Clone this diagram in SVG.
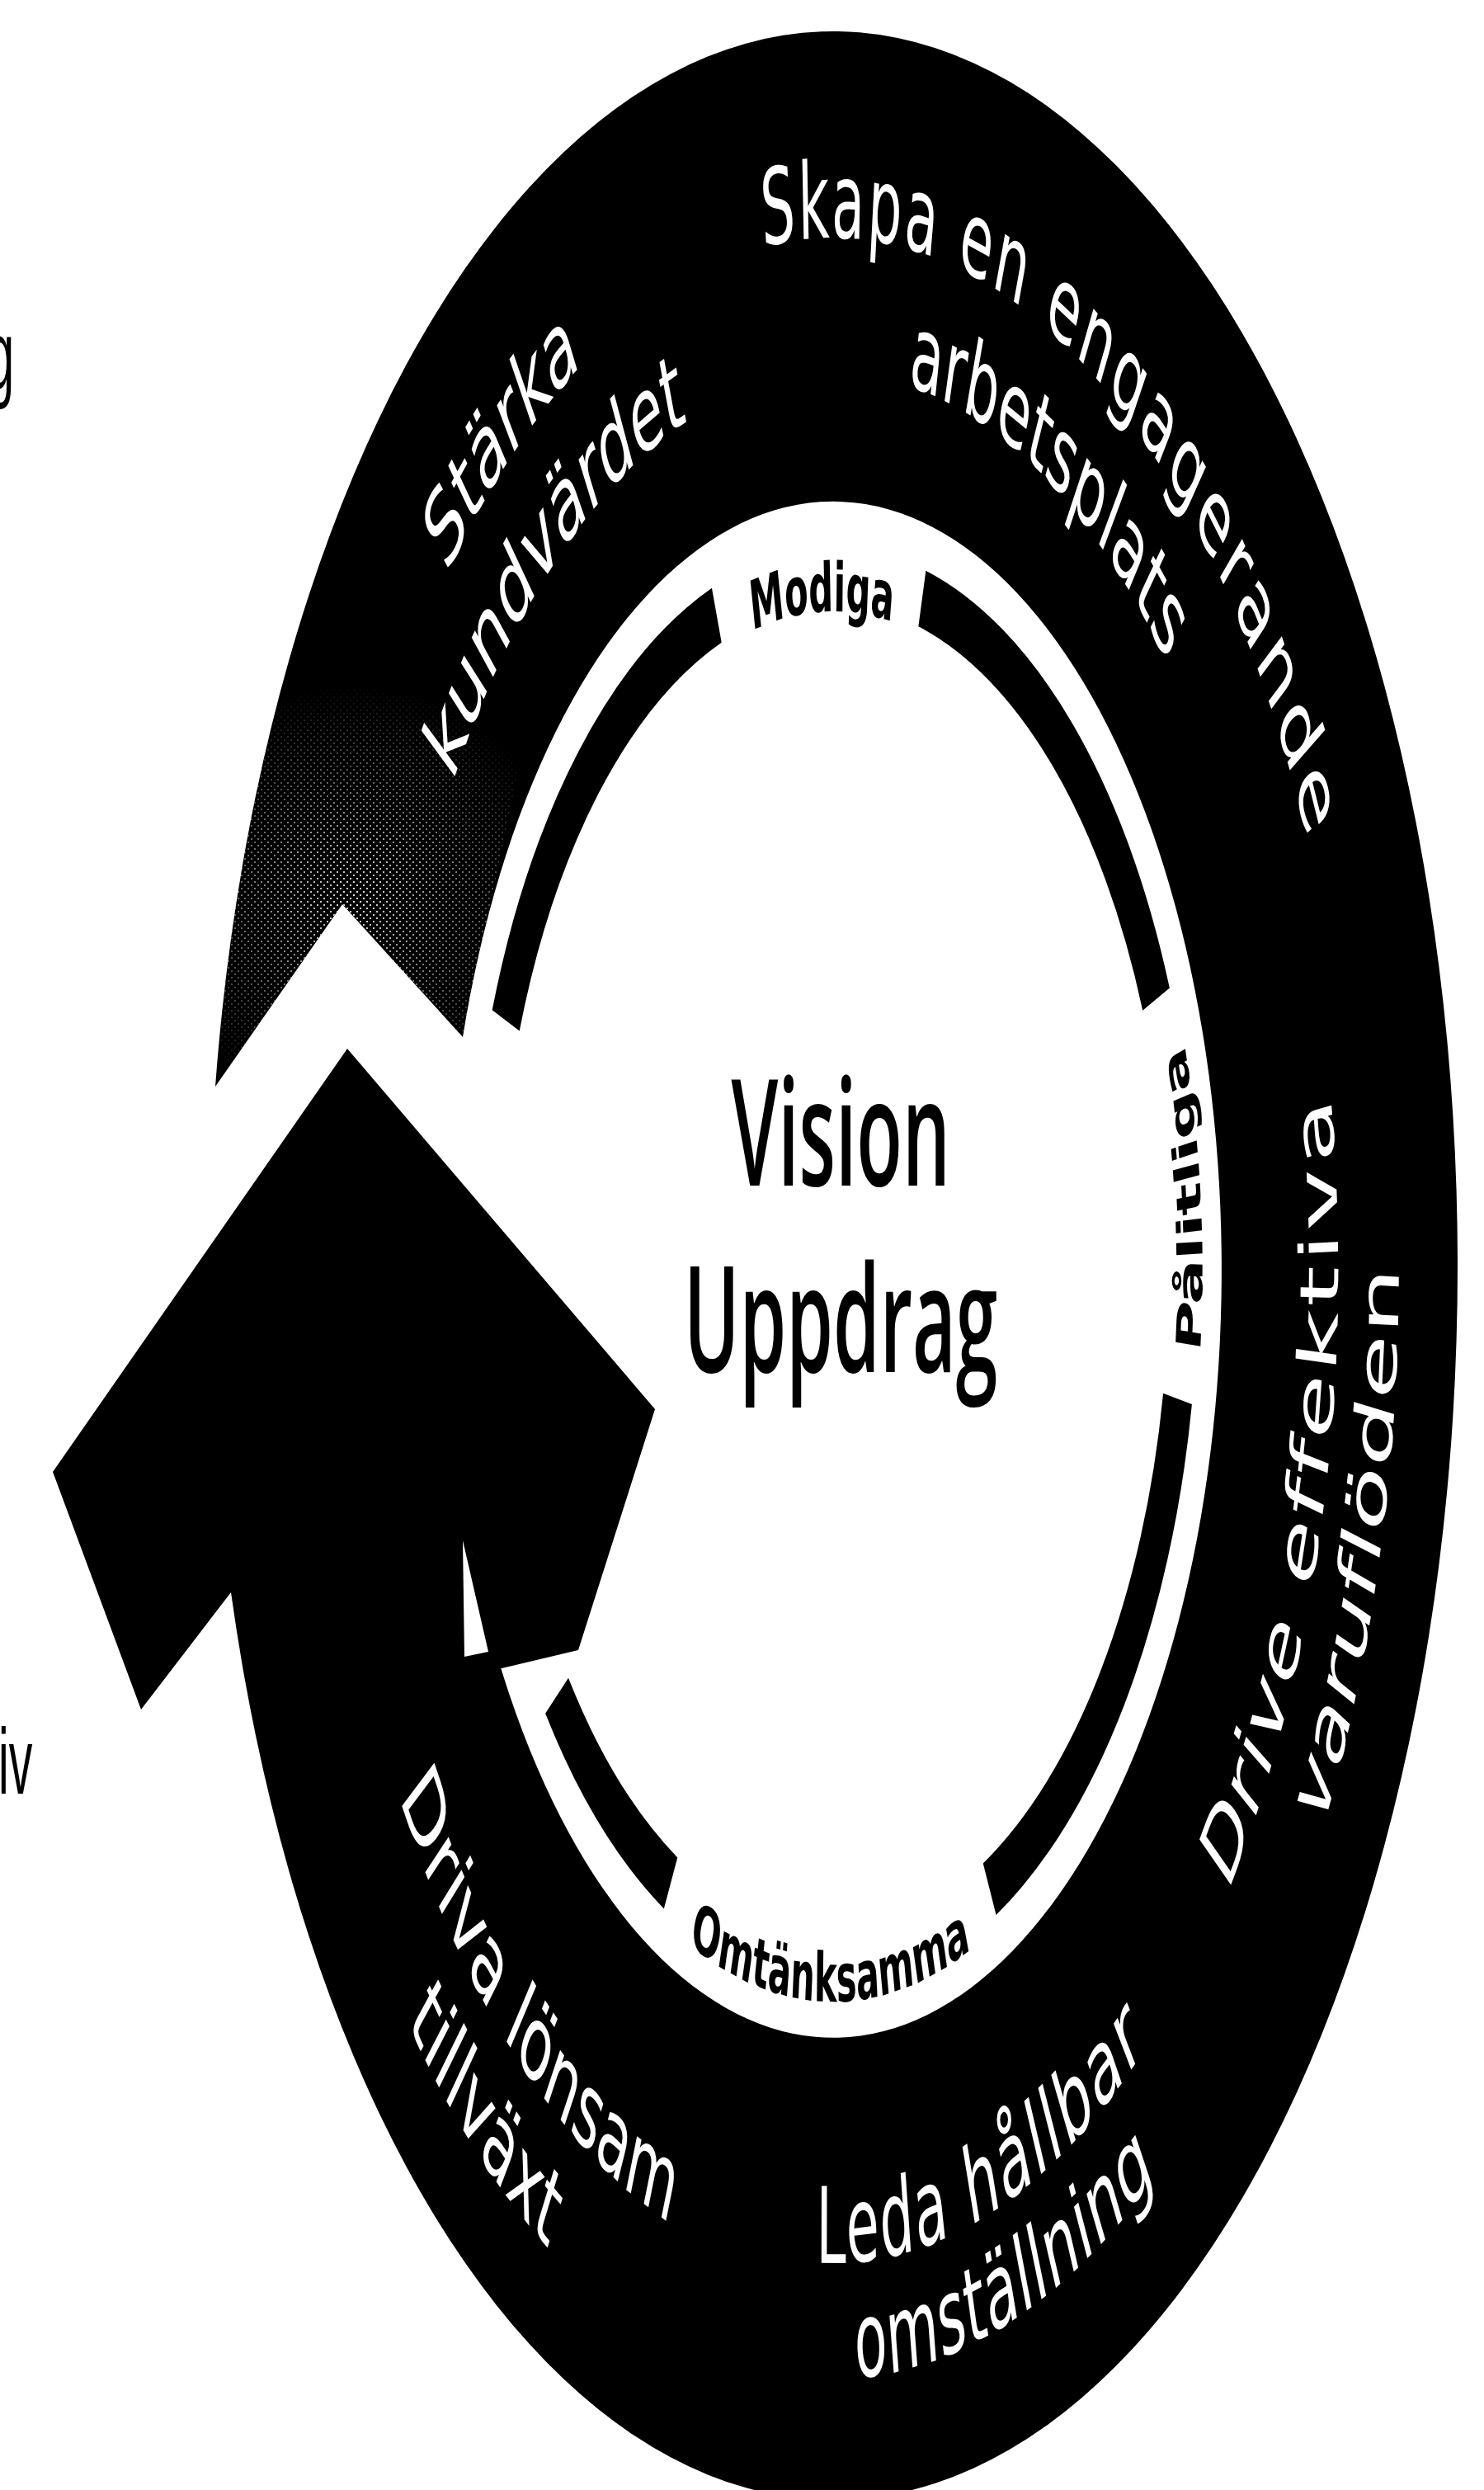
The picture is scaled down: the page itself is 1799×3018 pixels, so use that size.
<svg xmlns="http://www.w3.org/2000/svg" width="1799" height="3018" viewBox="0 0 1799 3018">
<style>
.ring{font-family:"DejaVu Sans",Verdana,sans-serif;font-size:128px;fill:#fff}
.lbl{font-family:"DejaVu Sans",sans-serif;font-weight:bold;font-size:82px;fill:#000}
.ctr{font-family:"Open Sans","Noto Sans",sans-serif;font-weight:600;font-size:180px;fill:#000;text-anchor:middle}
.band{fill:none;stroke:#000;stroke-width:70}
.frag{font-family:"Liberation Sans",Arial,sans-serif;fill:#000}
</style>
<defs>
<pattern id="speck" width="8" height="8" patternUnits="userSpaceOnUse"><rect width="2" height="2" fill="#fff"/><rect x="4" y="4" width="2" height="2" fill="#fff"/></pattern>
<radialGradient id="fade" cx="430" cy="1090" r="260" gradientUnits="userSpaceOnUse"><stop offset="0" stop-color="#fff" stop-opacity="0.9"/><stop offset="1" stop-color="#fff" stop-opacity="0"/></radialGradient>
<mask id="spkMask"><rect x="0" y="700" width="800" height="700" fill="url(#fade)"/></mask>
<clipPath id="tailClip"><polygon points="200,780 660,780 561,1257 415,1096 261,1317 200,1317"/></clipPath>
<path id="p-starka" d="M -1044.8,686.3 A 1250 1250 0 0 1 909.8,-857.3"/>
<path id="p-kund" d="M -910.0,590.9 A 1085 1085 0 0 1 793.5,-740.0"/>
<path id="p-skapa" d="M -1036.3,-699.0 A 1250 1250 0 0 1 1141.9,508.4"/>
<path id="p-arbets" d="M -904.8,-598.8 A 1085 1085 0 0 1 995.1,432.6"/>
<path id="p-drive" d="M -193.5,1194.4 A 1210 1210 0 0 0 398.0,-1142.7"/>
<path id="p-varu" d="M -235.3,1334.4 A 1355 1355 0 0 0 463.4,-1273.3"/>
<path id="p-leda" d="M -1106.7,476.6 A 1205 1205 0 0 0 1172.7,-277.2"/>
<path id="p-omst" d="M -1231.6,540.6 A 1345 1345 0 0 0 1306.7,-318.5"/>
<path id="p-driva" d="M -1017.4,-673.3 A 1220 1220 0 0 0 885.0,839.8"/>
<path id="p-till" d="M -1135.7,-766.1 A 1370 1370 0 0 0 985.4,951.7"/>
<path id="p-modiga" d="M -795.8,-43.1 A 797 797 0 0 1 791.3,-95.7"/>
<path id="p-palit" d="M 164.3,869.6 A 885 885 0 0 0 -10.8,-884.9"/>
<path id="p-omt" d="M -885.3,69.7 A 888 888 0 0 0 883.9,85.1"/>
</defs>
<rect width="1799" height="3018" fill="#fff"/>
<g id="arrow">
<path id="arrow-body" d="M 261,1317 L 415,1096 L 561,1257 A 471 931 0 1 1 568,1861 L 600,2024 L 701,2000 L 794,1708 L 421,1271 L 64,1784 L 171,2072 L 280,1930 A 757 1496 0 1 0 261,1317 Z" fill="#000"/>
<polygon id="sliver" points="561,1867 563,2008 592,2002" fill="#fff"/>
</g>
<g id="speckle" clip-path="url(#tailClip)">
<rect x="200" y="780" width="460" height="540" fill="url(#speck)" mask="url(#spkMask)"/>
</g>
<g id="diagram" transform="translate(1010 1538) scale(0.506 1)">
<g id="connectors">
<path class="band" d="M -784.2,-301.1 A 840 840 0 0 1 -279.0,-792.3"/>
<path class="band" d="M 213.2,-812.5 A 840 840 0 0 1 773.8,-326.8"/>
<path class="band" d="M 825.1,157.4 A 840 840 0 0 1 374.8,751.7"/>
<path class="band" d="M -389.2,744.4 A 840 840 0 0 1 -661.9,517.2"/>
</g>
<g id="node-center">
<text class="ctr" x="18" y="-101">Vision</text>
<text class="ctr" x="18" y="125">Uppdrag</text>
</g>
<g id="node-starka">
<text class="ring" text-anchor="middle"><textPath href="#p-starka" startOffset="50%">Stärka</textPath></text>
<text class="ring" text-anchor="middle"><textPath href="#p-kund" startOffset="50%">kundvärdet</textPath></text>
</g>
<g id="node-skapa">
<text class="ring" text-anchor="middle" letter-spacing="6"><textPath href="#p-skapa" startOffset="50%">Skapa en engagerande</textPath></text>
<text class="ring" text-anchor="middle"><textPath href="#p-arbets" startOffset="50%">arbetsplats</textPath></text>
</g>
<g id="node-drive">
<text class="ring" text-anchor="middle" letter-spacing="6"><textPath href="#p-drive" startOffset="50%">Drive effektiva</textPath></text>
<text class="ring" text-anchor="middle" letter-spacing="3"><textPath href="#p-varu" startOffset="50%">varuflöden</textPath></text>
</g>
<g id="node-leda">
<text class="ring" text-anchor="middle" letter-spacing="5"><textPath href="#p-leda" startOffset="50%">Leda hållbar</textPath></text>
<text class="ring" text-anchor="middle" letter-spacing="2"><textPath href="#p-omst" startOffset="50%">omställning</textPath></text>
</g>
<g id="node-driva">
<text class="ring" text-anchor="middle" font-size="122"><textPath href="#p-driva" startOffset="50%">Driva lönsam</textPath></text>
<text class="ring" text-anchor="middle" font-size="115"><textPath href="#p-till" startOffset="50%">tillväxt</textPath></text>
</g>
<g id="node-modiga">
<text class="lbl" text-anchor="middle"><textPath href="#p-modiga" startOffset="50%">Modiga</textPath></text>
</g>
<g id="node-palitliga">
<text class="lbl" text-anchor="middle"><textPath href="#p-palit" startOffset="50%">Pålitliga</textPath></text>
</g>
<g id="node-omtanksamma">
<text class="lbl" text-anchor="middle"><textPath href="#p-omt" startOffset="50%">Omtänksamma</textPath></text>
</g>
</g>
<g id="fragments">
<text class="frag" font-size="118" transform="translate(-16 471) scale(0.506 1)">g</text>
<text class="frag" font-size="113" transform="translate(-2 2174) scale(0.506 1)">iv</text>
</g>
</svg>
